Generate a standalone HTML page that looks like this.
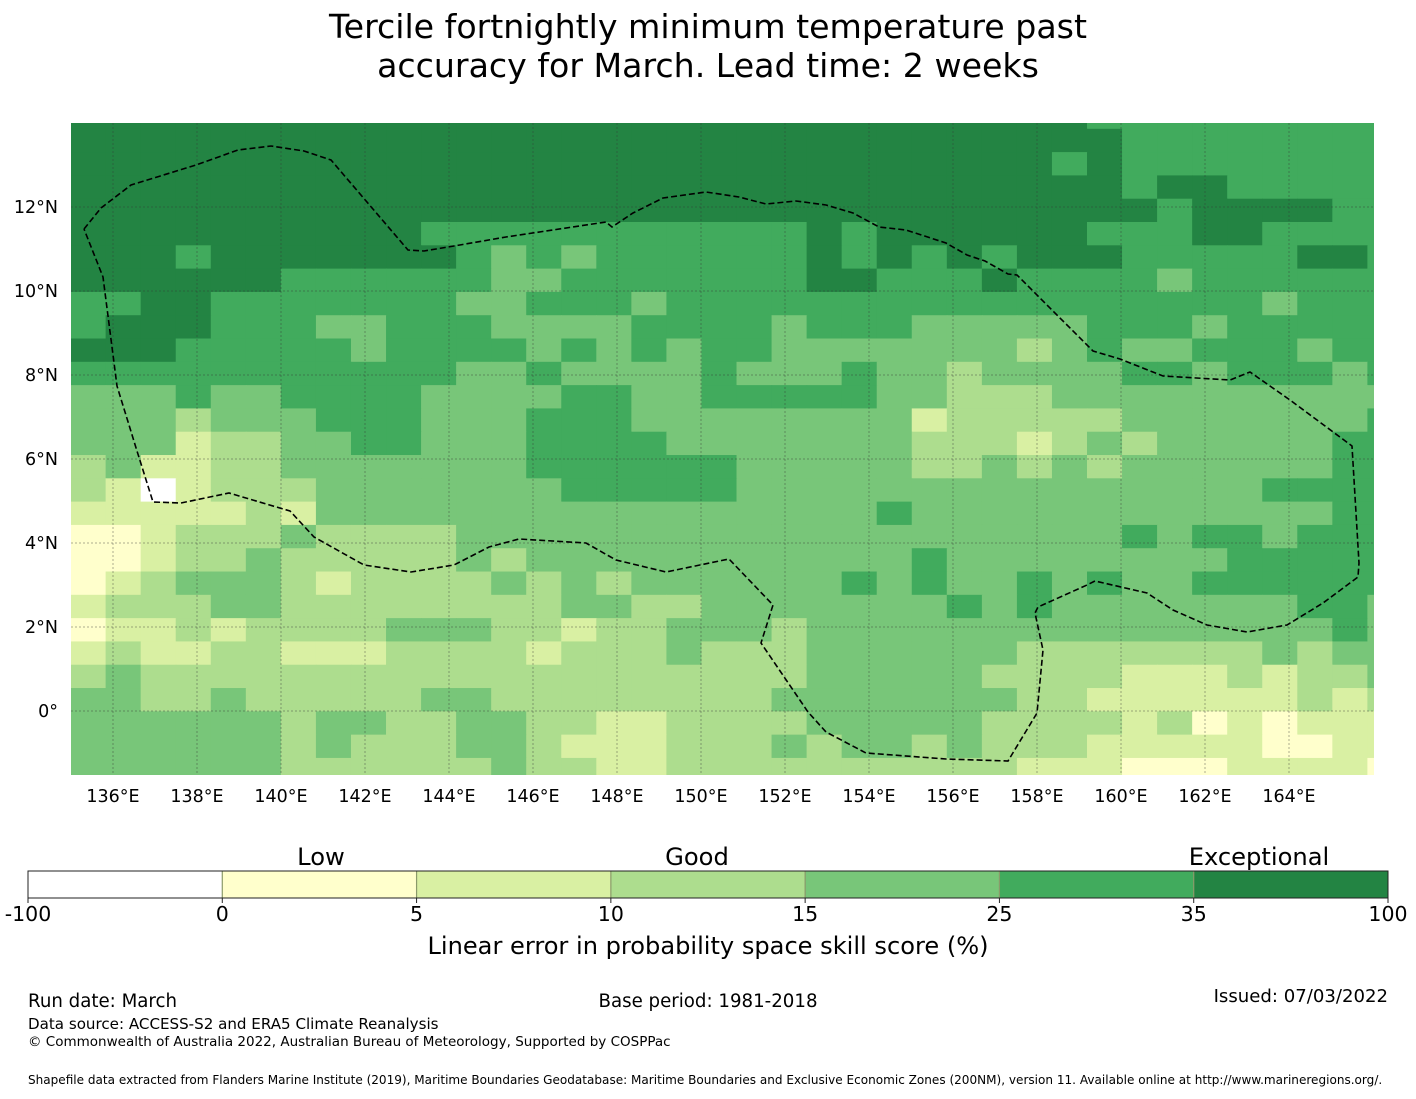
<!DOCTYPE html>
<html><head><meta charset="utf-8"><style>
html,body{margin:0;padding:0;background:#fff;}
body{width:1416px;height:1095px;overflow:hidden;font-family:"DejaVu Sans","Liberation Sans",sans-serif;}
svg text{font-family:"DejaVu Sans","Liberation Sans",sans-serif;fill:#000;}
</style></head><body>
<svg id="chart" width="1416" height="1095" viewBox="0 0 1416 1095" xmlns="http://www.w3.org/2000/svg">
<g>
<text x="708" y="38" font-size="33.2" text-anchor="middle">Tercile fortnightly minimum temperature past</text>
<text x="708" y="77" font-size="33.2" text-anchor="middle">accuracy for March. Lead time: 2 weeks</text>
</g>
<defs><clipPath id="mapclip"><rect x="71" y="123" width="1303" height="652"/></clipPath></defs>
<g id="cells" clip-path="url(#mapclip)"></g>
<g id="grid" clip-path="url(#mapclip)"></g>
<path id="eez" fill="none" stroke="#000" stroke-width="1.6" stroke-dasharray="6,3" clip-path="url(#mapclip)"/>
<g id="xlabels"></g>
<g id="ylabels"></g>
<g id="colorbar"></g>
<text x="321" y="865" font-size="24.2" text-anchor="middle">Low</text>
<text x="697" y="865" font-size="24.2" text-anchor="middle">Good</text>
<text x="1259" y="865" font-size="24.2" text-anchor="middle">Exceptional</text>
<text x="708" y="954" font-size="24.1" text-anchor="middle">Linear error in probability space skill score (%)</text>
<text x="28" y="1007" font-size="18.2">Run date: March</text>
<text x="708" y="1007" font-size="18.2" text-anchor="middle">Base period: 1981-2018</text>
<text x="1388" y="1002" font-size="18.1" text-anchor="end">Issued: 07/03/2022</text>
<text x="28" y="1029" font-size="15.1">Data source: ACCESS-S2 and ERA5 Climate Reanalysis</text>
<text x="28" y="1046" font-size="13.5">© Commonwealth of Australia 2022, Australian Bureau of Meteorology, Supported by COSPPac</text>
<text x="28" y="1084" font-size="12.05">Shapefile data extracted from Flanders Marine Institute (2019), Maritime Boundaries Geodatabase: Maritime Boundaries and Exclusive Economic Zones (200NM), version 11. Available online at http://www.marineregions.org/.</text>
</svg>
<script>
// skill class per cell (0:<0, 1:0-5, 2:5-10, 3:10-15, 4:15-25, 5:25-35, 6:35-100), rows north->south
const gridRows = [
"66666666666666666666666666666555555555",
"66666666666666666666666666666655555555",
"66666666666666666666666666665655555555",
"66666666666666666666666666666656655555",
"66666666666666666666666666666665666655",
"66666666665555555555565666666555665555",
"66656666666545455555565656566655555665",
"66666655555544555555566555655554555555",
"55665555555445554555555555555555554555",
"56665554455544445555455544444555455555",
"66655555455554545455444444434544555455",
"55555555555445444454445443444455455545",
"44454455554444554455555443334444444444",
"44434445554445554444444423333344444445",
"44423344554445555444444433323434444455",
"34223344444445555554444433434344444455",
"32023334444444555554444444444444445555",
"22222324444444444444444544444444444455",
"11233343333444444444444444444454554555",
"11233433333434444444444454444444455555",
"12344432333343434444445454454544555555",
"23334433333333443344444445454444444554",
"12232333344433233444344444444444444454",
"23223322233332333433344444433333334344",
"34333333333333333333344444333322232334",
"44334333334433333333444444433222222323",
"44444434433443322333344444333323121222",
"44444434333443222333434434333222221122",
"44444433333343322333333333322211122221"
];
const classLabels = ["-100","0","5","10","15","25","35","100"];
const classColors = ["#ffffff","#ffffcc","#d9f0a3","#addd8e","#78c679","#41ab5d","#238443"];
const lonOrigin = 134.99, lonStep = 0.8345;   // grid definition (degrees)
const latOrigin = 13.862, latStep = 0.5548;
const lonTicks = [136,138,140,142,144,146,148,150,152,154,156,158,160,162,164];
const latTicks = [0,2,4,6,8,10,12];

const NS = "http://www.w3.org/2000/svg";
function xScale(lon){ return 113 + (lon-136)*42; }
function yScale(lat){ return 711 - lat*42; }
function mk(tag, attrs){ const e=document.createElementNS(NS,tag); for(const k in attrs) e.setAttribute(k,attrs[k]); return e; }

const cells = document.getElementById('cells');
gridRows.forEach((row, r) => {
  const latTop = r===0 ? 20 : latOrigin - (r-1)*latStep;
  const latBot = latOrigin - r*latStep;
  const latB = r===gridRows.length-1 ? -5 : latBot;
  for (let c=0;c<row.length;c++){
    const v = +row[c];
    const x0 = xScale(lonOrigin + c*lonStep), x1 = xScale(lonOrigin + (c+1)*lonStep);
    const y0 = yScale(latTop), y1 = yScale(latB);
    const rect = mk('rect',{x:x0,y:y0,width:x1-x0+0.6,height:y1-y0+0.6,fill:classColors[v]});
    
    
    cells.appendChild(rect);
  }
});

const grid = document.getElementById('grid');
const xl = document.getElementById('xlabels');
lonTicks.forEach(l => {
  const x = xScale(l);
  const ln = mk('line',{x1:x,y1:123,x2:x,y2:775,stroke:'#333','stroke-opacity':0.4,'stroke-width':1,'stroke-dasharray':'2,2'});
  
  
  grid.appendChild(ln);
  const t = mk('text',{x:x,y:802,'font-size':17.5,'text-anchor':'middle'});
  t.textContent = l + '°E';
  
  
  xl.appendChild(t);
});
const yl = document.getElementById('ylabels');
latTicks.forEach(l => {
  const y = yScale(l);
  const ln = mk('line',{x1:71,y1:y,x2:1374,y2:y,stroke:'#333','stroke-opacity':0.4,'stroke-width':1,'stroke-dasharray':'2,2'});
  
  
  grid.appendChild(ln);
  const t = mk('text',{x:58,y:y+6,'font-size':17.5,'text-anchor':'end'});
  t.textContent = l===0 ? '0°' : l + '°N';
  
  
  yl.appendChild(t);
});

const eezPts = [[84,229],[101,208],[131,185],[196,165],[238,150],[271,146],[304,151],[331,160],[408,250],[424,251],[454,246],[506,237],[606,222],[612,227],[633,213],[663,198],[706,192],[739,197],[766,204],[796,201],[826,205],[853,213],[879,227],[906,230],[946,243],[967,255],[985,261],[1008,274],[1017,275],[1040,298],[1093,351],[1120,359],[1163,376],[1230,380],[1250,372],[1290,400],[1352,446],[1359,563],[1358,577],[1323,603],[1287,625],[1247,632],[1207,625],[1173,610],[1147,593],[1095,581],[1087,585],[1038,607],[1035,613],[1043,650],[1037,713],[1008,761],[946,759],[866,753],[826,732],[808,712],[761,643],[773,605],[729,559],[666,572],[616,560],[586,543],[519,539],[489,547],[454,565],[411,572],[364,565],[314,537],[290,511],[229,493],[181,503],[153,502],[137,451],[117,386],[103,277],[84,229]];
document.getElementById('eez').setAttribute('d', 'M' + eezPts.map(p=>p.join(',')).join(' L'));

const cb = document.getElementById('colorbar');
const cbX0 = 28, cbW = 1360, seg = cbW/classColors.length;
classColors.forEach((col,i) => {
  const r = mk('rect',{x:cbX0+i*seg,y:871,width:seg,height:27,fill:col});
  
  
  cb.appendChild(r);
  if (i>0){
    const d = mk('line',{x1:cbX0+i*seg,y1:871,x2:cbX0+i*seg,y2:898,stroke:'#8a9a6a','stroke-width':1.2});
    
    
    cb.appendChild(d);
  }
});
const frame = mk('rect',{x:cbX0,y:871,width:cbW,height:27,fill:'none',stroke:'#222','stroke-width':1});


cb.appendChild(frame);
classLabels.forEach((lab,i) => {
  const x = cbX0 + i*seg;
  const tk = mk('line',{x1:x,y1:898,x2:x,y2:903,stroke:'#222','stroke-width':1});
  
  
  cb.appendChild(tk);
  const t = mk('text',{x:x,y:921,'font-size':20.5,'text-anchor':'middle'});
  t.textContent = lab;
  
  
  cb.appendChild(t);
});
</script>
</body></html>
